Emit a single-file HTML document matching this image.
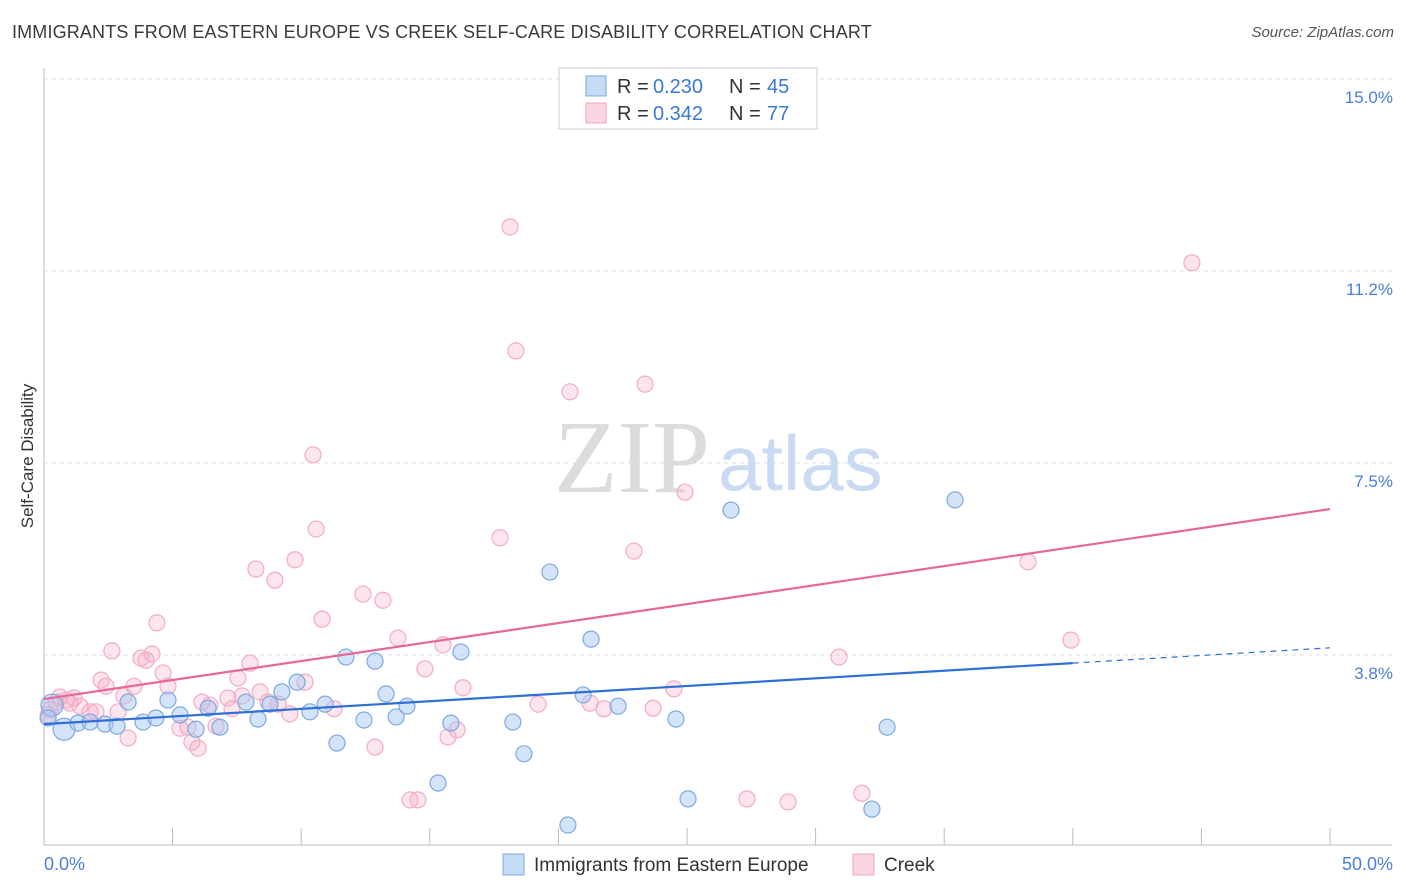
<!DOCTYPE html>
<html><head><meta charset="utf-8"><style>
body{margin:0;background:#fff;font-family:"Liberation Sans",sans-serif;}
#wrap{position:relative;width:1406px;height:892px;overflow:hidden;}
.t{position:absolute;white-space:nowrap;}
</style></head><body>
<div id="wrap">
<div class="t" style="left:12px;top:22px;font-size:18px;letter-spacing:0.15px;color:#3a3a3a;">IMMIGRANTS FROM EASTERN EUROPE VS CREEK SELF-CARE DISABILITY CORRELATION CHART</div>
<div class="t" style="right:12px;top:24px;font-size:15px;color:#555;font-style:italic;">Source: ZipAtlas.com</div>
<svg id="svg" width="1406" height="892" style="position:absolute;left:0;top:0"></svg>
</div>
<script>
const xTickPcts=[0,5,10,15,20,25,30,35,40,45,50];
const yGridVals=[3.75,7.5,11.25,15];
const yTickLabels=["3.8%","7.5%","11.2%","15.0%"];
const blueX=[0.31,0.78,0.16,1.32,1.79,2.37,2.84,3.27,3.85,4.35,4.82,5.29,5.91,6.38,6.84,7.85,8.32,8.79,9.25,9.84,10.34,10.93,11.39,11.74,12.44,12.87,13.30,13.69,14.11,15.32,15.82,16.21,18.23,18.66,19.67,20.37,20.96,21.27,22.32,24.57,25.04,26.71,32.19,32.78,35.42];
const blueY=[2.77,2.30,2.52,2.42,2.44,2.40,2.36,2.83,2.44,2.52,2.87,2.58,2.30,2.71,2.34,2.83,2.50,2.79,3.03,3.22,2.64,2.79,2.03,3.71,2.48,3.63,2.99,2.54,2.75,1.25,2.42,3.81,2.44,1.82,5.37,0.43,2.97,4.06,2.75,2.50,0.94,6.58,0.74,2.34,6.78];
const pinkX=[0.16,0.23,0.47,0.62,0.86,1.01,1.17,1.40,1.79,2.02,2.22,2.41,2.64,2.88,3.11,3.27,3.50,3.77,3.97,4.20,4.39,4.63,4.82,5.29,5.60,5.75,5.99,6.14,6.45,6.69,7.15,7.31,7.54,7.70,8.01,8.24,8.40,8.71,8.98,9.10,9.56,9.76,10.15,10.46,10.58,10.81,11.28,12.40,12.87,13.18,13.76,14.23,14.54,14.81,15.51,15.71,16.06,16.29,17.73,18.12,18.35,19.21,20.45,21.23,21.77,22.94,23.37,23.68,24.49,24.92,27.33,28.93,30.91,31.80,38.26,39.93,44.63];
const pinkY=[2.58,2.68,2.83,2.93,2.87,2.81,2.91,2.75,2.64,2.64,3.26,3.14,3.83,2.64,2.95,2.13,3.14,3.69,3.65,3.77,4.38,3.40,3.14,2.32,2.34,2.05,1.93,2.83,2.77,2.36,2.91,2.70,3.30,2.95,3.59,5.43,3.03,2.83,5.21,2.79,2.60,5.61,3.22,7.66,6.21,4.45,2.70,4.94,1.95,4.82,4.08,0.92,0.92,3.48,3.95,2.15,2.29,3.11,6.04,12.11,9.69,2.79,8.89,2.81,2.70,5.78,9.04,2.71,3.09,6.93,0.94,0.88,3.71,1.05,5.57,4.04,11.41];
const blueTrend=[2.40,3.89];
const blueSolidEnd=40;
const pinkTrend=[2.89,6.60];
const ns="http://www.w3.org/2000/svg";
const svg=document.getElementById('svg');
const X=v=>44+v*25.72, Y=v=>847-v*51.2;
function mk(t,a){const e=document.createElementNS(ns,t);for(const k in a)e.setAttribute(k,a[k]);svg.appendChild(e);return e;}
yGridVals.forEach((v,i)=>{
 const g=mk('line',{x1:44,x2:1392,y1:Y(v),y2:Y(v),stroke:'#dcdcdc','stroke-dasharray':'4,4'});
 
 
 const t=mk('text',{x:1393,y:Y(v)+24,'text-anchor':'end','font-size':17,fill:'#4a7fd8','font-family':'Liberation Sans'});
 t.textContent=yTickLabels[i];
 
 
});
mk('line',{x1:44,x2:44,y1:68,y2:845,stroke:'#bbb'});
mk('line',{x1:44,x2:1392,y1:845,y2:845,stroke:'#bbb'});
xTickPcts.forEach(p=>{
 const l=mk('line',{x1:X(p),x2:X(p),y1:828,y2:845,stroke:'#bbb'});
 
 
});
[["0.0%",44,'start'],["50.0%",1393,'end']].forEach(d=>{
 const t=mk('text',{x:d[1],y:870,'text-anchor':d[2],'font-size':18,fill:'#4a7fd8','font-family':'Liberation Sans'});
 t.textContent=d[0];
 
 
});
const w1=mk('text',{x:554,y:492,'font-size':104,fill:'#dcdcdc','font-family':'Liberation Serif'});w1.textContent='ZIP';


const w2=mk('text',{x:718,y:490,'font-size':78,fill:'#c9daf2','font-family':'Liberation Sans'});w2.textContent='atlas';


const yt=mk('text',{x:0,y:0,'font-size':17,fill:'#333','font-family':'Liberation Sans','text-anchor':'middle',transform:'translate(33,456) rotate(-90)'});
yt.textContent='Self-Care Disability';


pinkX.forEach((x,i)=>{
 const c=mk('circle',{cx:X(x),cy:Y(pinkY[i]),r:8,fill:'rgba(246,170,196,0.3)',stroke:'#f4abc4','stroke-width':1.2});
 
 
});
blueX.forEach((x,i)=>{
 const c=mk('circle',{cx:X(x),cy:Y(blueY[i]),r:i<2?11:8,fill:'rgba(160,195,240,0.45)',stroke:'#7ea9e2','stroke-width':1.2});
 
 
});
const bAt=p=>blueTrend[0]+(blueTrend[1]-blueTrend[0])*p/50;
let l=mk('line',{x1:X(0),y1:Y(bAt(0)),x2:X(blueSolidEnd),y2:Y(bAt(blueSolidEnd)),stroke:'#2f6fd6','stroke-width':2.2});


l=mk('line',{x1:X(blueSolidEnd),y1:Y(bAt(blueSolidEnd)),x2:X(50),y2:Y(bAt(50)),stroke:'#2f6fd6','stroke-width':1.2,'stroke-dasharray':'6,5'});


l=mk('line',{x1:X(0),y1:Y(pinkTrend[0]),x2:X(50),y2:Y(pinkTrend[1]),stroke:'#e8679a','stroke-width':2.2});


let r=mk('rect',{x:559,y:68,width:258,height:61,fill:'#fff',stroke:'#ccc'});


[[86,'rgba(160,195,240,0.6)','#7ea9e2','0.230','45'],[113,'rgba(246,170,196,0.5)','#f2a3bd','0.342','77']].forEach(d=>{
 const s=mk('rect',{x:586,y:d[0]-10,width:20,height:20,fill:d[1],stroke:d[2]});
 
 
 [['R =',617,'#333'],[d[3],653,'#3b78d8'],['N =',729,'#333'],[d[4],767,'#3b78d8']].forEach(p=>{
  const t=mk('text',{x:p[1],y:d[0]+7,'font-size':20,fill:p[2],'font-family':'Liberation Sans'});
  t.textContent=p[0];
  
  
 });
});
[[503,'rgba(160,195,240,0.6)','#7ea9e2','Immigrants from Eastern Europe'],[853,'rgba(246,170,196,0.5)','#f2a3bd','Creek']].forEach(d=>{
 const s=mk('rect',{x:d[0],y:854,width:21,height:21,fill:d[1],stroke:d[2]});
 
 
 const t=mk('text',{x:d[0]+31,y:871,'font-size':19,fill:'#333','font-family':'Liberation Sans'});
 t.textContent=d[3];
 
 
});
</script>
</body></html>
